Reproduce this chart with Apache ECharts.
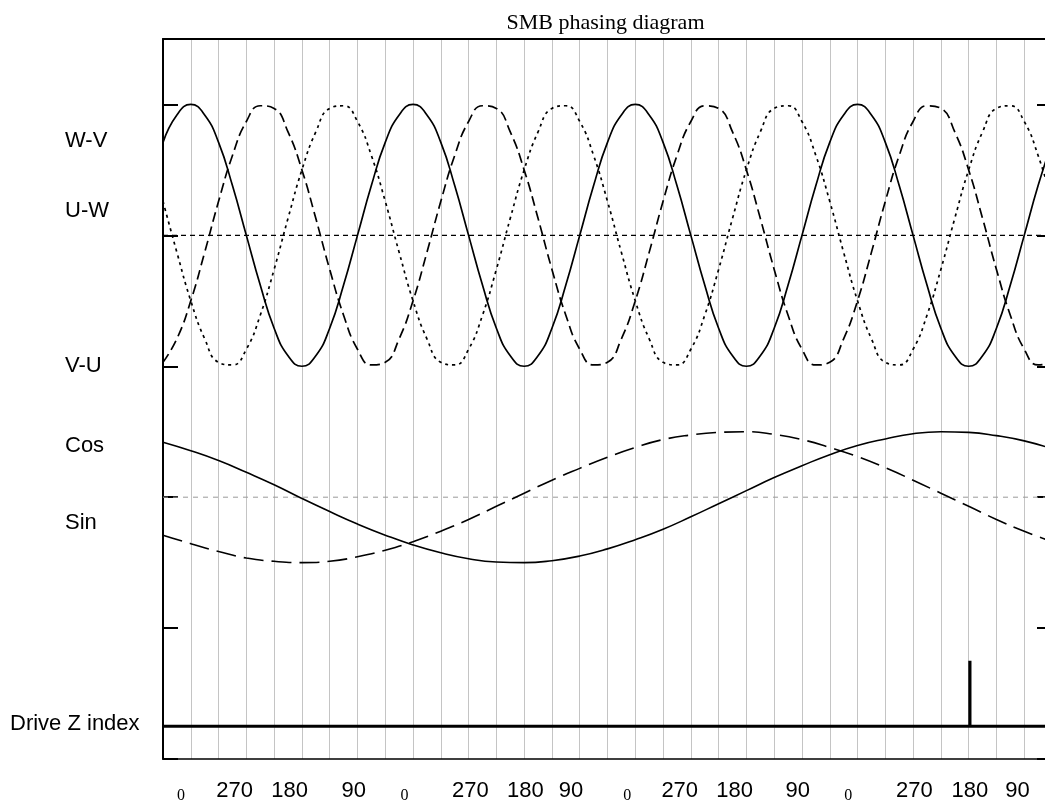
<!DOCTYPE html>
<html><head><meta charset="utf-8">
<script src="https://cdn.jsdelivr.net/npm/echarts@6/dist/echarts.min.js"></script>
<style>html,body{margin:0;padding:0;background:#fff}#c{width:1045px;height:803px}</style>
</head><body><div id="c"></div>
<script>
// ---------- data ----------
const chartTitle = 'SMB phasing diagram';
const laneNames = ['W-V', 'U-W', 'V-U', 'Cos', 'Sin', 'Drive Z index'];
const laneNameLevels = [4.72, 4.19, 3.0, 2.39, 1.8, 0.27];

// three-phase signals, sampled every 22.5 electrical degrees (0..1440)
const phaseStepDeg = 22.5;
const wv = [0.71,0.92,1,0.92,0.71,0.38,0,-0.38,-0.71,-0.92,-1,-0.92,-0.71,-0.38,0,0.38,
            0.71,0.92,1,0.92,0.71,0.38,0,-0.38,-0.71,-0.92,-1,-0.92,-0.71,-0.38,0,0.38,
            0.71,0.92,1,0.92,0.71,0.38,0,-0.38,-0.71,-0.92,-1,-0.92,-0.71,-0.38,0,0.38,
            0.71,0.92,1,0.92,0.71,0.38,0,-0.38,-0.71,-0.92,-1,-0.92,-0.71,-0.38,0,0.38,0.71];
const uw = [-0.97,-0.79,-0.5,-0.13,0.26,0.61,0.87,0.99,0.97,0.79,0.5,0.13,-0.26,-0.61,-0.87,-0.99,
            -0.97,-0.79,-0.5,-0.13,0.26,0.61,0.87,0.99,0.97,0.79,0.5,0.13,-0.26,-0.61,-0.87,-0.99,
            -0.97,-0.79,-0.5,-0.13,0.26,0.61,0.87,0.99,0.97,0.79,0.5,0.13,-0.26,-0.61,-0.87,-0.99,
            -0.97,-0.79,-0.5,-0.13,0.26,0.61,0.87,0.99,0.97,0.79,0.5,0.13,-0.26,-0.61,-0.87,-0.99,-0.97];
const vu = [0.26,-0.13,-0.5,-0.79,-0.97,-0.99,-0.87,-0.61,-0.26,0.13,0.5,0.79,0.97,0.99,0.87,0.61,
            0.26,-0.13,-0.5,-0.79,-0.97,-0.99,-0.87,-0.61,-0.26,0.13,0.5,0.79,0.97,0.99,0.87,0.61,
            0.26,-0.13,-0.5,-0.79,-0.97,-0.99,-0.87,-0.61,-0.26,0.13,0.5,0.79,0.97,0.99,0.87,0.61,
            0.26,-0.13,-0.5,-0.79,-0.97,-0.99,-0.87,-0.61,-0.26,0.13,0.5,0.79,0.97,0.99,0.87,0.61,0.26];

// encoder cos / sin tracks, sampled every 45 electrical degrees
const encStepDeg = 45;
const cosTrack = [0.84,0.71,0.56,0.38,0.19,-0.02,-0.22,-0.41,-0.58,-0.73,-0.85,-0.94,-0.99,-1,-0.97,-0.9,
                  -0.79,-0.65,-0.49,-0.3,-0.1,0.1,0.3,0.48,0.65,0.79,0.89,0.97,1,0.99,0.94,0.86,0.74];
const sinTrack = [-0.58,-0.71,-0.83,-0.93,-0.98,-1,-0.98,-0.91,-0.81,-0.68,-0.52,-0.34,-0.14,0.06,0.26,0.44,
                  0.61,0.76,0.88,0.95,0.99,1,0.96,0.88,0.76,0.62,0.45,0.26,0.06,-0.14,-0.34,-0.52,-0.68];

// drive Z index pulse
const zIndexAngles = [0, 1307, 1307, 1307, 1440];
const zIndexLevels = [0, 0, 1, 0, 0];

// bottom labels
const xTickLabels = ['0','270','180','90','0','270','180','90','0','270','180','90','0','270','180','90'];
const xTickAngles = [29,116,205,309,391,498,587,661,752,837,926,1028,1110,1217,1307,1384];

// ---------- layout ----------
const X_MAX = 1440, Y_MAX = 5.5;
const PHASE_CENTER = 4, PHASE_AMP = 1;
const ENC_CENTER = 2, ENC_AMP = 0.5;
const Z_BASE = 0.25, Z_AMP = 0.5;
const SANS = '"Liberation Sans", Arial, sans-serif';
const SERIF = '"Liberation Serif", "Times New Roman", serif';

const chart = echarts.init(document.getElementById('c'), null, {renderer: 'canvas'});

function lineSeries(data, style, smooth) {
  return {type: 'line', data, symbol: 'none', showSymbol: false, smooth: smooth ? 0.5 : false,
          silent: true, lineStyle: style, z: 3};
}
const phaseData = arr => arr.map((v, i) => [i * phaseStepDeg, PHASE_CENTER + v * PHASE_AMP]);
const encData = arr => arr.map((v, i) => [i * encStepDeg, ENC_CENTER + v * ENC_AMP]);

chart.setOption({
  animation: false,
  backgroundColor: '#fff',
  grid: {left: 163, top: 39, width: 889, height: 720, containLabel: false, outerBoundsMode: 'none'},
  xAxis: [
    {type: 'value', min: 0, max: X_MAX, interval: 45, position: 'bottom',
     axisLine: {show: true, lineStyle: {color: '#000', width: 1.5}},
     axisTick: {show: false}, axisLabel: {show: false},
     splitLine: {show: true, lineStyle: {color: '#c4c4c4', width: 1}}},
    {type: 'value', min: 0, max: X_MAX, position: 'top',
     axisLine: {show: true, onZero: false, lineStyle: {color: '#000', width: 2}},
     axisTick: {show: false}, axisLabel: {show: false}, splitLine: {show: false}}
  ],
  yAxis: [
    {type: 'value', min: 0, max: Y_MAX, interval: 1, position: 'left',
     axisLine: {show: true, onZero: false, lineStyle: {color: '#000', width: 2}},
     axisTick: {show: true, inside: true, length: 15, lineStyle: {color: '#000', width: 2}},
     axisLabel: {show: false}, splitLine: {show: false}},
    {type: 'value', min: 0, max: Y_MAX, interval: 1, position: 'right',
     axisLine: {show: true, onZero: false, lineStyle: {color: '#000', width: 2}},
     axisTick: {show: true, inside: true, length: 15, lineStyle: {color: '#000', width: 2}},
     axisLabel: {show: false}, splitLine: {show: false}}
  ],
  series: [
    lineSeries([[0, PHASE_CENTER], [X_MAX, PHASE_CENTER]], {color: '#000', width: 1.3, type: [5, 4]}),
    lineSeries([[0, ENC_CENTER], [X_MAX, ENC_CENTER]], {color: '#999', width: 1, type: [5, 5]}),
    lineSeries(phaseData(wv), {color: '#000', width: 1.7, type: 'solid'}, true),
    lineSeries(phaseData(uw), {color: '#000', width: 1.7, type: [10, 5]}, true),
    lineSeries(phaseData(vu), {color: '#000', width: 1.7, type: [3, 4]}, true),
    lineSeries(encData(cosTrack), {color: '#000', width: 1.6, type: 'solid'}, true),
    lineSeries(encData(sinTrack), {color: '#000', width: 1.6, type: [20, 8]}, true),
    lineSeries(zIndexAngles.map((a, i) => [a, Z_BASE + zIndexLevels[i] * Z_AMP]),
               {color: '#000', width: 3.2, type: 'solid', cap: 'butt'})
  ]
});

// text placed with the chart's own scales
const gx = v => chart.convertToPixel({xAxisIndex: 0}, v);
const gy = v => chart.convertToPixel({yAxisIndex: 0}, v);
const graphics = [];
graphics.push({type: 'text', x: (gx(0) + gx(X_MAX)) / 2 - 2, y: 23,
  style: {text: chartTitle, font: '22px ' + SERIF, fill: '#000',
          align: 'center', verticalAlign: 'middle', textAlign: 'center', textVerticalAlign: 'middle'}});
laneNames.forEach((name, i) => {
  graphics.push({type: 'text', x: i === laneNames.length - 1 ? 10 : 65, y: gy(laneNameLevels[i]),
    style: {text: name, font: '22px ' + SANS, fill: '#000',
            align: 'left', verticalAlign: 'middle', textAlign: 'left', textVerticalAlign: 'middle'}});
});
xTickLabels.forEach((t, i) => {
  const zero = t === '0';
  graphics.push({type: 'text', x: gx(xTickAngles[i]), y: zero ? 796 : 791,
    style: {text: t, font: (zero ? '16px ' + SERIF : '22px ' + SANS), fill: '#000',
            align: 'center', verticalAlign: 'middle', textAlign: 'center', textVerticalAlign: 'middle'}});
});
chart.setOption({graphic: graphics});
</script>
</body></html>
